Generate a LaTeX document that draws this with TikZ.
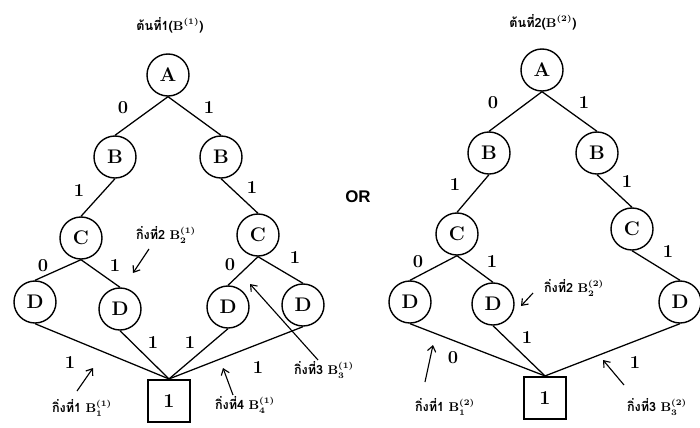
\documentclass[tikz,border=0pt]{standalone}
\usepackage{fontspec}
\usetikzlibrary{arrows.meta}
\newfontfamily\thaifont[Script=Thai]{Loma}
\newfontfamily\orfont{Liberation Sans}

\begin{document}
\begin{tikzpicture}[x=0.025cm,y=-0.025cm,>={Straight Barb[length=4pt,width=6pt]}]
\tikzset{
  vertex/.style={draw,circle,line width=1pt,minimum size=1.05cm,inner sep=0pt,
                 font=\fontsize{14}{16}\selectfont\bfseries},
  leafbox/.style={draw,line width=1.5pt,minimum size=1.05cm,inner sep=0pt,
                  font=\fontsize{14}{16}\selectfont\bfseries},
  bit/.style={font=\fontsize{13}{15}\selectfont\bfseries,inner sep=1pt},
  branch/.style={font=\fontsize{9}{11}\selectfont\thaifont\bfseries\boldmath,inner sep=1pt},
  link/.style={line width=0.9pt},
  pointer/.style={->,line width=0.8pt}
}
\useasboundingbox (0,0) rectangle (700,428);
\node[branch] (title1) at (170,25) {ต้นที่1($\mathbf{B}^{(1)}$)};
\node[branch] (title2) at (543,22) {ต้นที่2($\mathbf{B}^{(2)}$)};
\node[font=\orfont\bfseries\fontsize{12}{14}\selectfont] (or) at (358,197) {OR};
\node[vertex] (a1) at (168,75) {A};
\node[vertex] (b1l) at (115,157) {B};
\node[vertex] (b1r) at (221,157) {B};
\node[vertex] (c1l) at (81,238) {C};
\node[vertex] (c1r) at (258,235) {C};
\node[vertex] (d1a) at (35,302) {D};
\node[vertex] (d1b) at (120,309) {D};
\node[vertex] (d1c) at (228,307) {D};
\node[vertex] (d1d) at (303,305) {D};
\node[leafbox] (box1) at (169,401) {1};
\node[vertex] (a2) at (542,70) {A};
\node[vertex] (b2l) at (489,153) {B};
\node[vertex] (b2r) at (597,153) {B};
\node[vertex] (c2l) at (457,234) {C};
\node[vertex] (c2r) at (632,229) {C};
\node[vertex] (d2a) at (410,302) {D};
\node[vertex] (d2b) at (493,304) {D};
\node[vertex] (d2c) at (680,302) {D};
\node[leafbox] (box2) at (545,398) {1};
\draw[link] (a1.south) -- (b1l.north);
\draw[link] (a1.south) -- (b1r.north);
\draw[link] (b1l.south) -- (c1l.north);
\draw[link] (b1r.south) -- (c1r.north);
\draw[link] (c1l.south) -- (d1a.north);
\draw[link] (c1l.south) -- (d1b.north);
\draw[link] (c1r.south) -- (d1c.north);
\draw[link] (c1r.south) -- (d1d.north);
\draw[link] (d1a.south) -- (box1.north);
\draw[link] (d1b.south) -- (box1.north);
\draw[link] (d1c.south) -- (box1.north);
\draw[link] (d1d.south) -- (box1.north);
\draw[link] (a2.south) -- (b2l.north);
\draw[link] (a2.south) -- (b2r.north);
\draw[link] (b2l.south) -- (c2l.north);
\draw[link] (b2r.south) -- (c2r.north);
\draw[link] (c2l.south) -- (d2a.north);
\draw[link] (c2l.south) -- (d2b.north);
\draw[link] (c2r.south) -- (d2c.north);
\draw[link] (d2a.south) -- (box2.north);
\draw[link] (d2b.south) -- (box2.north);
\draw[link] (d2c.south) -- (box2.north);
\node[bit] (e1ab) at (123,108) {0};
\node[bit] (e1ac) at (209,108) {1};
\node[bit] (e1bl) at (79,191) {1};
\node[bit] (e1br) at (252,188) {1};
\node[bit] (e1ca) at (43,266) {0};
\node[bit] (e1cb) at (115,266) {1};
\node[bit] (e1cc) at (230,265) {0};
\node[bit] (e1cd) at (295,258) {1};
\node[bit] (e1da) at (70,363) {1};
\node[bit] (e1db) at (153,343) {1};
\node[bit] (e1dc) at (190,343) {1};
\node[bit] (e1dd) at (258,368) {1};
\node[bit] (e2ab) at (493,103) {0};
\node[bit] (e2ac) at (584,103) {1};
\node[bit] (e2bl) at (455,185) {1};
\node[bit] (e2br) at (627,182) {1};
\node[bit] (e2ca) at (418,262) {0};
\node[bit] (e2cb) at (492,262) {1};
\node[bit] (e2cc) at (668,252) {1};
\node[bit] (e2da) at (453,358) {0};
\node[bit] (e2db) at (527,338) {1};
\node[bit] (e2dc) at (635,363) {1};
\node[branch] (lab11) at (82,408) {กิ่งที่1 $\mathbf{B}^{(1)}_{1}$};
\node[branch] (lab12) at (166,235) {กิ่งที่2 $\mathbf{B}^{(1)}_{2}$};
\node[branch] (lab13) at (324,370) {กิ่งที่3 $\mathbf{B}^{(1)}_{3}$};
\node[branch] (lab14) at (245,405) {กิ่งที่4 $\mathbf{B}^{(1)}_{4}$};
\node[branch] (lab21) at (445,407) {กิ่งที่1 $\mathbf{B}^{(2)}_{1}$};
\node[branch] (lab22) at (574,288) {กิ่งที่2 $\mathbf{B}^{(2)}_{2}$};
\node[branch] (lab23) at (657,407) {กิ่งที่3 $\mathbf{B}^{(2)}_{3}$};
\coordinate (tip11) at (93,368);
\coordinate (tip12) at (133,273);
\coordinate (tip13) at (250,284);
\coordinate (tip14) at (223,368);
\coordinate (tip21) at (433,345);
\coordinate (tip22) at (521,306);
\coordinate (tip23) at (603,360);
\draw[pointer] (77,391) -- (tip11);
\draw[pointer] (149,249) -- (tip12);
\draw[pointer] (318,360) -- (tip13);
\draw[pointer] (233,395) -- (tip14);
\draw[pointer] (425,382) -- (tip21);
\draw[pointer] (533,293) -- (tip22);
\draw[pointer] (624,385) -- (tip23);
\end{tikzpicture}
\end{document}
